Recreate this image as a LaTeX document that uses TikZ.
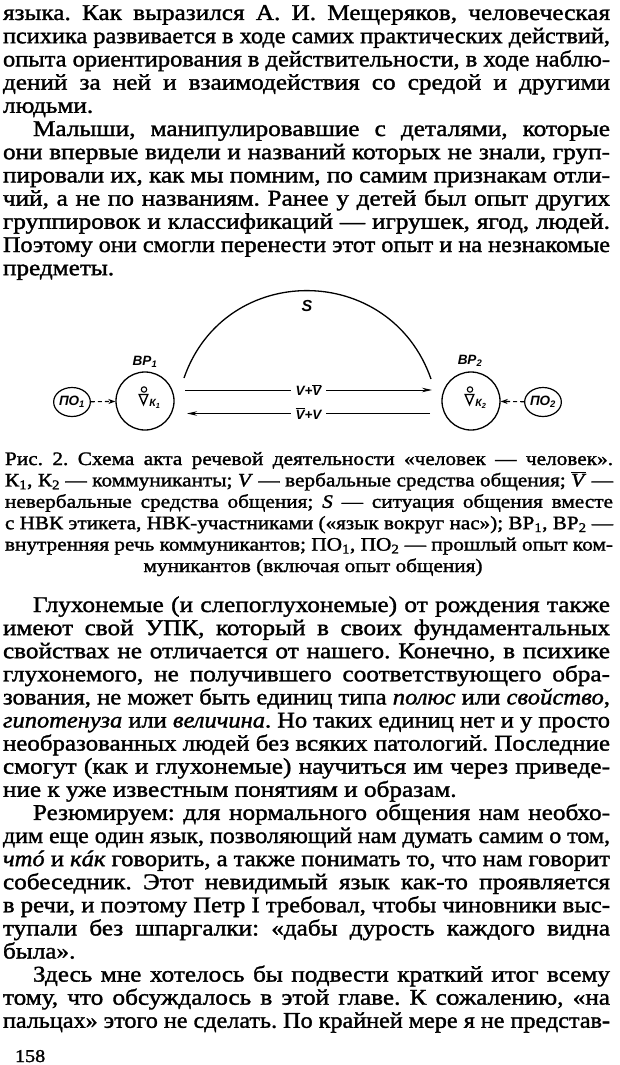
\documentclass[tikz,border=0pt]{standalone}
\usepackage{fontspec}
\setmainfont{Liberation Serif}[FakeStretch=1.12,FakeBold=1.5]
\setsansfont{Liberation Sans}
\usepackage{graphicx}
\usetikzlibrary{arrows.meta,shapes.geometric,calc}
\frenchspacing
\newlength\TW
\newsavebox\jlbox
\newcommand\jl[2][607pt]{\setlength\TW{#1}\sbox\jlbox{#2}\ifdim\wd\jlbox>\TW\resizebox{\TW}{\height}{\usebox\jlbox}\else\hbox to\TW{\spaceskip=0.25em plus 1fil\relax #2}\fi}
\newcommand\bodyfnt{\fontsize{22.5pt}{23pt}\selectfont}
\newcommand\capfnt{\fontsize{19pt}{21pt}\selectfont}
\newcommand\dfnt{\sffamily\itshape\bfseries\fontsize{13.5pt}{15pt}\selectfont}
\newcommand\vbar[1]{$\overline{\mbox{#1}}$}
\begin{document}
\begin{tikzpicture}[x=1pt,y=-1pt,
  txt/.style={inner sep=0pt,outer sep=0pt,anchor=base west,font=\bodyfnt},
  captxt/.style={inner sep=0pt,outer sep=0pt,anchor=base west,font=\capfnt},
  bigc/.style={circle,draw,line width=1.3pt,minimum size=58pt,inner sep=0pt},
  smallc/.style={ellipse,draw,line width=1.2pt,minimum width=36pt,minimum height=29pt,inner sep=0pt,font=\dfnt},
  dlab/.style={font=\dfnt,inner sep=1pt},
  arr/.style={line width=1pt,-{Stealth[length=10pt,width=4.5pt]}},
  darr/.style={line width=1.1pt,dash pattern=on 4pt off 3pt,-{Stealth[length=7pt,width=5pt]}},
  midlab/.style={fill=white,inner sep=5pt,font=\dfnt}
]
\fill[white] (0,0) rectangle (620,1065);
\useasboundingbox (0,0) rectangle (620,1065);

% ---- paragraph 1 ----
\node[txt] (l1) at (3,20) {\jl{языка. Как выразился А. И. Мещеряков, человеческая}};
\node[txt] (l2) at (3,43.2) {\jl{психика развивается в ходе самих практических действий,}};
\node[txt] (l3) at (3,66.4) {\jl{опыта ориентирования в действительности, в ходе наблю-}};
\node[txt] (l4) at (3,89.6) {\jl{дений за ней и взаимодействия со средой и другими}};
\node[txt] (l5) at (3,112.8) {людьми.};
% ---- paragraph 2 ----
\node[txt] (l6) at (33,136) {\jl[577pt]{Малыши, манипулировавшие с деталями, которые}};
\node[txt] (l7) at (3,159.2) {\jl{они впервые видели и названий которых не знали, груп-}};
\node[txt] (l8) at (3,182.4) {\jl{пировали их, как мы помним, по самим признакам отли-}};
\node[txt] (l9) at (3,205.6) {\jl{чий, а не по названиям. Ранее у детей был опыт других}};
\node[txt] (l10) at (3,228.8) {\jl{группировок и классификаций — игрушек, ягод, людей.}};
\node[txt] (l11) at (3,252) {\jl{Поэтому они смогли перенести этот опыт и на незнакомые}};
\node[txt] (l12) at (3,275.2) {предметы.};

% ---- diagram ----
\node[bigc] (k1) at (145,401) {};
\node[bigc] (k2) at (471,401) {};
\node[smallc] (po1) at (72,402) {ПО\textsubscript{1}};
\node[smallc] (po2) at (543,402) {ПО\textsubscript{2}};
\node[dlab] (bp1) at (145,362) {ВР\textsubscript{1}};
\node[dlab] (bp2) at (470,361) {ВР\textsubscript{2}};
\node[dlab,font=\sffamily\itshape\bfseries\fontsize{16pt}{18pt}\selectfont] (s) at (307,306) {S};
\foreach \k/\n in {k1/1,k2/2}{
  \draw[line width=1.1pt] ($(\k.center)+(-1,-11.5)$) circle[radius=2.7];
  \draw[line width=1.4pt,line join=miter] ($(\k.center)+(-5.8,-6.5)$) -- ($(\k.center)+(2.8,-6.5)$) -- ($(\k.center)+(-1.5,3.5)$) -- cycle;
  \node[inner sep=0pt,font=\sffamily\itshape\bfseries\fontsize{10.5pt}{12pt}\selectfont] (kl\n) at ($(\k.center)+(10,3)$) {К\textsubscript{\n}};
}
\draw[arr] ($(k1.center)+(40,-11)$) -- node[midlab] (vv1) {V+\vbar{V}} ($(k2.center)+(-39,-11)$);
\draw[arr] ($(k2.center)+(-41,12.5)$) -- node[midlab] (vv2) {\vbar{V}+V} ($(k1.center)+(42,12.5)$);
\draw[line width=1.3pt] ($(k1.center)+(39,-23)$) .. controls +(40.8,-117.2) and +(-40.8,-117.2) .. ($(k2.center)+(-40,-22)$);
\draw[darr] (po1) -- (k1);
\draw[darr] (po2) -- (k2);

% ---- caption ----
\node[captxt] (c1) at (5,465) {\jl[608pt]{Рис. 2. Схема акта речевой деятельности «человек — человек».}};
\node[captxt] (c2) at (5,486.4) {\jl[608pt]{К\textsubscript{1}, К\textsubscript{2} — коммуниканты; \textit{V} — вербальные средства общения; \vbar{\textit{V}} —}};
\node[captxt] (c3) at (5,507.8) {\jl[608pt]{невербальные средства общения; \textit{S} — ситуация общения вместе}};
\node[captxt] (c4) at (5,529.2) {\jl[608pt]{с НВК этикета, НВК-участниками («язык вокруг нас»); ВР\textsubscript{1}, ВР\textsubscript{2} —}};
\node[captxt] (c5) at (5,550.6) {\jl[608pt]{внутренняя речь коммуникантов; ПО\textsubscript{1}, ПО\textsubscript{2} — прошлый опыт ком-}};
\node[captxt,anchor=base] (c6) at (313,572) {муникантов (включая опыт общения)};

% ---- paragraph 3 ----
\node[txt] (m1) at (33,612) {\jl[577pt]{Глухонемые (и слепоглухонемые) от рождения также}};
\node[txt] (m2) at (3,635.1) {\jl{имеют свой УПК, который в своих фундаментальных}};
\node[txt] (m3) at (3,658.2) {\jl{свойствах не отличается от нашего. Конечно, в психике}};
\node[txt] (m4) at (3,681.3) {\jl{глухонемого, не получившего соответствующего обра-}};
\node[txt] (m5) at (3,704.4) {\jl{зования, не может быть единиц типа \textit{полюс} или \textit{свойство},}};
\node[txt] (m6) at (3,727.5) {\jl{\textit{гипотенуза} или \textit{величина}. Но таких единиц нет и у просто}};
\node[txt] (m7) at (3,750.6) {\jl{необразованных людей без всяких патологий. Последние}};
\node[txt] (m8) at (3,773.7) {\jl{смогут (как и глухонемые) научиться им через приведе-}};
\node[txt] (m9) at (3,796.8) {ние к уже известным понятиям и образам.};
% ---- paragraph 4 ----
\node[txt] (n1) at (33,819.9) {\jl[577pt]{Резюмируем: для нормального общения нам необхо-}};
\node[txt] (n2) at (3,843) {\jl{дим еще один язык, позволяющий нам думать самим о том,}};
\node[txt] (n3) at (3,866.1) {\jl{\textit{чтó} и \textit{кáк} говорить, а также понимать то, что нам говорит}};
\node[txt] (n4) at (3,889.2) {\jl{собеседник. Этот невидимый язык как-то проявляется}};
\node[txt] (n5) at (3,912.3) {\jl{в речи, и поэтому Петр I требовал, чтобы чиновники выс-}};
\node[txt] (n6) at (3,935.4) {\jl{тупали без шпаргалки: «дабы дурость каждого видна}};
\node[txt] (n7) at (3,958.5) {была».};
% ---- paragraph 5 ----
\node[txt] (p1) at (33,981.6) {\jl[577pt]{Здесь мне хотелось бы подвести краткий итог всему}};
\node[txt] (p2) at (3,1004.7) {\jl{тому, что обсуждалось в этой главе. К сожалению, «на}};
\node[txt] (p3) at (3,1027.8) {\jl{пальцах» этого не сделать. По крайней мере я не представ-}};
\node[txt,font=\fontsize{18pt}{20pt}\selectfont] (pg) at (15,1062) {158};
\end{tikzpicture}
\end{document}
